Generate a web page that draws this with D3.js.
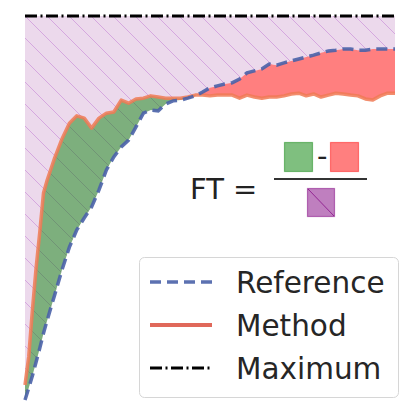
<!DOCTYPE html>
<html>
<head>
<meta charset="utf-8">
<script src="https://cdn.jsdelivr.net/npm/d3@7"></script>
<style>
  html, body { margin: 0; padding: 0; background: #fff; }
  svg { display: block; }
  text { font-family: "DejaVu Sans", sans-serif; }
</style>
</head>
<body>
<svg id="chart" width="420" height="420"></svg>
<script>
// ---- data ----
const steps = [0,1,2,3,4,5,6,8,10,12,14,16,18,20,22,24,26,28,30,32,34,36,38,40,42,44,46,48,50,52,54,56,58,60,62,64,66,68,70,72,74,76,78,80,82,84,86,88,90,92,94,96,98,100];
const referenceValues = [0,0.031,0.063,0.099,0.135,0.174,0.208,0.273,0.339,0.398,0.443,0.474,0.503,0.547,0.599,0.633,0.659,0.677,0.711,0.747,0.755,0.753,0.771,0.779,0.781,0.786,0.792,0.802,0.813,0.818,0.823,0.826,0.836,0.852,0.857,0.862,0.875,0.872,0.878,0.883,0.888,0.893,0.898,0.904,0.909,0.911,0.914,0.914,0.911,0.911,0.914,0.914,0.914,0.914];
const methodValues = [0.039,0.112,0.234,0.344,0.438,0.539,0.573,0.630,0.680,0.721,0.740,0.734,0.708,0.734,0.747,0.750,0.781,0.773,0.784,0.786,0.792,0.789,0.786,0.786,0.786,0.789,0.794,0.794,0.792,0.794,0.794,0.794,0.786,0.794,0.789,0.786,0.789,0.789,0.792,0.797,0.799,0.792,0.797,0.789,0.794,0.799,0.797,0.794,0.792,0.784,0.781,0.792,0.799,0.799];
const maximumValue = 1.0;
const legendLabels = ["Reference", "Method", "Maximum"];
const formulaLabel = "FT =";

const data = steps.map((s, i) => ({ x: s, ref: referenceValues[i], m: methodValues[i] }));

// ---- scales ----
const x = d3.scaleLinear().domain([0, 100]).range([25, 395]);
const y = d3.scaleLinear().domain([0, 1]).range([400, 16]);

const svg = d3.select("#chart");
const defs = svg.append("defs");

// hatch pattern (diagonal "\" lines, 22px apart horizontally)
const H = 22;
const pat = defs.append("pattern")
  .attr("id", "hatch").attr("patternUnits", "userSpaceOnUse")
  .attr("x", 25).attr("y", 16)
  .attr("width", H).attr("height", H);
[-H, 0, H].forEach(dx => {
  pat.append("line")
    .attr("x1", dx - 1).attr("y1", -1).attr("x2", dx + H + 1).attr("y2", H + 1)
    .attr("stroke", "rgb(205,150,218)").attr("stroke-width", 1).attr("stroke-opacity", 0.75);
});

// clip regions
const aboveRef = d3.area().x(d => x(d.x)).y0(d => y(d.ref)).y1(() => 0);
const aboveMethod = d3.area().x(d => x(d.x)).y0(d => y(d.m)).y1(() => 0);
defs.append("clipPath").attr("id", "clipAboveRef").append("path").attr("d", aboveRef(data));
defs.append("clipPath").attr("id", "clipAboveMethod").append("path").attr("d", aboveMethod(data));

// purple area between max and reference
const purpleArea = d3.area().x(d => x(d.x)).y0(d => y(d.ref)).y1(() => y(maximumValue));
svg.append("path").attr("d", purpleArea(data)).attr("fill", "rgba(128,0,128,0.15)");
svg.append("path").attr("d", purpleArea(data)).attr("fill", "url(#hatch)");

// green: method above reference
const underMethod = d3.area().x(d => x(d.x)).y0(() => y(0)).y1(d => y(d.m));
svg.append("path").attr("d", underMethod(data))
  .attr("clip-path", "url(#clipAboveRef)")
  .attr("fill", "rgba(0,128,0,0.47)");

// red: reference above method
const underRef = d3.area().x(d => x(d.x)).y0(() => y(0)).y1(d => y(d.ref));
svg.append("path").attr("d", underRef(data))
  .attr("clip-path", "url(#clipAboveMethod)")
  .attr("fill", "rgba(255,0,0,0.5)");

// lines
const lineM = d3.line().x(d => x(d.x)).y(d => y(d.m));
const lineR = d3.line().x(d => x(d.x)).y(d => y(d.ref));
svg.append("path").attr("d", lineM(data)).attr("fill", "none")
  .attr("stroke", "#f07a55").attr("stroke-width", 3.5).attr("stroke-opacity", 0.85)
  .attr("stroke-linejoin", "round");
svg.append("path").attr("d", lineR(data)).attr("fill", "none")
  .attr("stroke", "#4a62a8").attr("stroke-width", 3.5).attr("stroke-opacity", 0.9)
  .attr("stroke-dasharray", "11,6");
svg.append("line")
  .attr("x1", x(0)).attr("x2", x(100)).attr("y1", y(maximumValue)).attr("y2", y(maximumValue))
  .attr("stroke", "#000").attr("stroke-width", 3)
  .attr("stroke-dasharray", "12,3.5,2,3.5");

// ---- formula ----
const fg = svg.append("g");
fg.append("text").attr("x", 190).attr("y", 199).attr("font-size", 29).attr("fill", "#222").text(formulaLabel);
fg.append("rect").attr("x", 284.5).attr("y", 142.5).attr("width", 28).attr("height", 29)
  .attr("fill", "rgba(0,128,0,0.5)").attr("stroke", "rgba(0,128,0,0.45)").attr("stroke-width", 1.2);
fg.append("text").attr("x", 317).attr("y", 166).attr("font-size", 29).attr("fill", "#222").text("-");
fg.append("rect").attr("x", 330.5).attr("y", 142.5).attr("width", 28).attr("height", 29)
  .attr("fill", "rgba(255,0,0,0.5)").attr("stroke", "rgba(255,0,0,0.45)").attr("stroke-width", 1.2);
fg.append("line").attr("x1", 274).attr("x2", 367).attr("y1", 179).attr("y2", 179)
  .attr("stroke", "#333").attr("stroke-width", 2);
fg.append("rect").attr("x", 307.5).attr("y", 188.5).attr("width", 27).attr("height", 28)
  .attr("fill", "rgba(128,0,128,0.5)").attr("stroke", "rgba(128,0,128,0.5)").attr("stroke-width", 1.2);
fg.append("line").attr("x1", 308).attr("y1", 189).attr("x2", 334).attr("y2", 216)
  .attr("stroke", "rgba(128,0,128,0.7)").attr("stroke-width", 1);

// ---- legend ----
const lg = svg.append("g");
lg.append("rect").attr("x", 139.5).attr("y", 257.5).attr("width", 259).attr("height", 140).attr("rx", 5)
  .attr("fill", "rgba(255,255,255,0.85)").attr("stroke", "#d6d6d6").attr("stroke-width", 1);
const legendStyles = [
  { stroke: "#4a62a8", width: 3.5, dash: "11,6", opacity: 0.9 },
  { stroke: "#e0685a", width: 4, dash: null, opacity: 1 },
  { stroke: "#000", width: 3, dash: "12,3.5,2,3.5", opacity: 1 }
];
legendLabels.forEach((lab, i) => {
  const cy = 282 + i * 43;
  const st = legendStyles[i];
  const ln = lg.append("line").attr("x1", 150).attr("x2", 212).attr("y1", cy).attr("y2", cy)
    .attr("stroke", st.stroke).attr("stroke-width", st.width).attr("stroke-opacity", st.opacity);
  if (st.dash) ln.attr("stroke-dasharray", st.dash);
  lg.append("text").attr("x", 236).attr("y", cy + 10.5).attr("font-size", 29.5).attr("fill", "#262626").text(lab);
});
</script>
</body>
</html>
